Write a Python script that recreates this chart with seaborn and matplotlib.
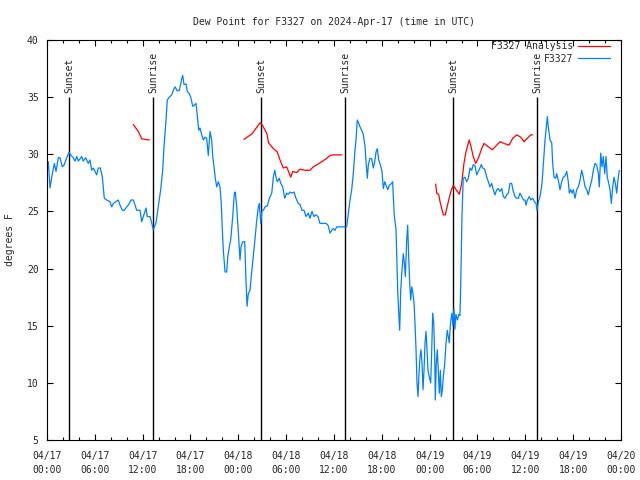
import matplotlib
matplotlib.use("Agg")
import matplotlib.pyplot as plt
import matplotlib.dates as mdates
import seaborn as sns
import pandas as pd

# hours after 2024-04-17 00:00 UTC
obs_hours = [0.16, 0.38, 0.59, 0.92, 1.13, 1.42, 1.63, 1.92, 2.17, 2.47, 2.76, 3.01, 3.30, 3.51, 3.73,
             3.93, 4.35, 4.55, 4.85, 5.18, 5.39, 5.61, 5.81, 6.02, 6.23, 6.44, 6.69, 6.94, 7.19, 7.49,
             7.90, 8.12, 8.32, 8.62, 8.94, 9.16, 9.45, 9.70, 10.00, 10.20, 10.54, 10.83, 11.04, 11.25,
             11.67, 11.88, 12.08, 12.42, 12.58, 12.92, 13.13, 13.33, 13.67, 13.96, 14.26, 14.51, 14.68,
             14.93, 15.09, 15.34, 15.64, 15.84, 16.06, 16.34, 16.60, 16.90, 17.02, 17.19, 17.44, 17.60,
             17.85, 18.03, 18.28, 18.48, 18.69, 18.85, 19.03, 19.19, 19.41, 19.61, 19.82, 20.03, 20.23,
             20.45, 20.66, 20.79, 20.95, 21.11, 21.29, 21.49, 21.70, 21.86, 21.99, 22.12, 22.33, 22.54,
             22.67, 22.87, 23.04, 23.29, 23.50, 23.62, 23.80, 24.00, 24.21, 24.34, 24.55, 24.80, 24.96,
             25.09, 25.25, 25.46, 25.72, 26.10, 26.31, 26.51, 26.64, 26.81, 26.97, 27.14, 27.35, 27.64,
             27.89, 28.19, 28.39, 28.57, 28.73, 28.89, 29.14, 29.32, 29.57, 29.82, 30.07, 30.27, 30.48,
             30.73, 30.98, 31.23, 31.52, 31.74, 31.99, 32.24, 32.49, 32.78, 32.99, 33.24, 33.49, 33.74,
             33.99, 34.24, 34.50, 35.00, 35.25, 35.50, 35.71, 35.91, 36.13, 36.34, 36.67, 37.59, 37.79,
             38.01, 38.22, 38.42, 38.60, 38.76, 38.92, 39.10, 39.26, 39.48, 39.68, 39.89, 40.02, 40.18,
             40.31, 40.52, 40.73, 40.93, 41.11, 41.27, 41.43, 41.61, 41.77, 42.02, 42.19, 42.36, 42.52,
             42.74, 42.94, 43.15, 43.36, 43.44, 43.57, 43.78, 43.87, 43.99, 44.12, 44.24, 44.37, 44.53,
             44.69, 44.82, 44.95, 45.12, 45.24, 45.37, 45.50, 45.62, 45.75, 45.87, 46.04, 46.16, 46.29,
             46.41, 46.54, 46.66, 46.79, 46.91, 47.04, 47.17, 47.29, 47.42, 47.54, 47.67, 47.79, 47.96,
             48.13, 48.26, 48.38, 48.51, 48.63, 48.71, 48.83, 48.96, 49.08, 49.21, 49.34, 49.46, 49.59,
             49.71, 49.89, 50.05, 50.21, 50.34, 50.46, 50.61, 50.79, 50.92, 51.04, 51.17, 51.29, 51.48,
             51.67, 51.80, 51.89, 52.05, 52.21, 52.42, 52.64, 52.85, 53.06, 53.27, 53.47, 53.69, 53.90,
             54.10, 54.31, 54.48, 54.65, 54.90, 55.16, 55.36, 55.57, 55.78, 55.98, 56.20, 56.41, 56.61,
             56.82, 57.04, 57.24, 57.45, 57.66, 57.87, 58.08, 58.29, 58.49, 58.71, 58.92, 59.12, 59.33,
             59.55, 59.75, 59.96, 60.09, 60.25, 60.50, 60.68, 60.93, 61.13, 61.34, 61.47, 61.63, 61.84,
             62.09, 62.26, 62.47, 62.68, 62.76, 62.88, 63.10, 63.31, 63.43, 63.60, 63.81, 63.93, 64.13,
             64.35, 64.56, 64.76, 64.98, 65.19, 65.39, 65.52, 65.69, 65.86, 66.02, 66.23, 66.44, 66.65,
             66.86, 67.07, 67.27, 67.49, 67.70, 67.90, 68.11, 68.33, 68.53, 68.74, 68.95, 69.16, 69.28,
             69.46, 69.62, 69.78, 69.96, 70.12, 70.28, 70.46, 70.62, 70.79, 70.96, 71.12, 71.29, 71.46,
             71.62, 71.79]
obs_dewpt = [29.35, 27.05, 28.0, 29.2, 28.5, 29.7, 29.7, 28.9, 29.1, 29.7, 30.2, 29.9, 29.7, 29.4, 29.8,
             29.4, 29.8, 29.4, 29.7, 29.2, 29.5, 28.6, 28.8, 28.5, 28.2, 28.8, 28.8, 28.0, 26.15, 26.0,
             25.85, 25.4, 25.7, 25.85, 26.0, 25.55, 25.1, 25.1, 25.4, 25.55, 26.0, 26.0, 25.55, 25.1,
             25.1, 24.1, 24.55, 25.3, 24.55, 24.55, 24.0, 23.4, 24.0, 25.4, 26.9, 28.6, 30.7,
             33.0, 34.75, 35.0, 35.2, 35.6, 35.9, 35.55, 35.6, 36.6, 36.9, 36.1, 36.15, 35.5,
             35.3, 35.0, 34.2, 34.3, 34.45, 33.4, 32.1, 32.3, 31.7, 31.25, 31.5, 31.4, 29.9,
             32.0, 31.25, 29.8, 28.9, 27.9, 27.15, 27.6, 27.15, 25.7, 23.4, 21.6, 19.7, 19.7,
             21.0, 21.9, 22.5, 24.5, 26.6, 26.7, 25.4, 23.1, 20.75, 21.9, 22.35, 22.35, 19.0,
             16.7, 17.8, 18.1, 20.0, 22.65, 24.25, 25.4, 25.7, 23.95, 25.1, 25.1, 25.4, 25.5,
             26.15, 26.6, 28.0, 28.6, 28.0, 27.6, 27.9, 27.45, 27.15, 26.15, 26.6, 26.5, 26.7,
             26.6, 26.7, 26.15, 25.7, 25.6, 25.1, 25.1, 24.55, 24.85, 24.4, 25.0, 24.55, 24.7,
             24.55, 23.95, 23.95, 23.95, 23.8, 23.1, 23.35, 23.5, 23.35, 23.65, 23.65, 23.65, 24.8,
             26.0, 26.9, 28.3, 30.1, 31.25, 33.0, 32.7, 32.4, 32.1, 31.7, 30.7, 29.35, 27.9,
             29.1, 29.65, 29.6, 28.8, 29.35, 30.2, 30.5, 29.5, 29.2, 28.5, 27.0, 27.6, 27.3,
             26.9, 27.3, 27.4, 27.6, 26.3, 24.55, 23.4, 21.0, 18.1, 16.1, 14.6, 18.1, 19.9,
             21.3, 20.5, 19.3, 22.5, 23.8, 21.0, 18.7, 17.25, 18.4, 18.0, 17.0, 15.2, 12.9,
             10.0, 8.8, 10.8, 12.3, 12.9, 11.7, 9.4, 11.1, 13.5, 14.5, 12.9, 11.1, 10.5,
             10.0, 12.9, 16.1, 15.2, 12.3, 8.5, 11.7, 12.9, 11.1, 9.1, 11.1, 8.8, 9.4,
             10.5, 11.7, 13.5, 14.6, 14.0, 13.5, 15.2, 16.1, 15.0, 16.5, 14.7, 16.0, 15.5,
             16.0, 15.9, 18.4, 24.5, 27.9, 28.0, 27.6, 27.9, 28.8, 28.6, 29.1, 29.0, 28.2,
             28.5, 28.8, 29.1, 28.8, 28.7, 28.0, 27.6, 27.15, 27.45, 26.9, 26.45, 26.9, 27.0,
             26.75, 27.0, 26.3, 26.15, 26.45, 26.6, 27.45, 27.45, 26.75, 26.3, 26.15, 26.15, 26.6,
             26.3, 26.0, 26.0, 25.55, 26.0, 26.3, 26.0, 26.15, 25.85, 25.7, 25.1, 25.85, 26.3,
             27.45, 29.2, 31.25, 32.7, 33.3, 32.4, 31.25, 31.0, 29.2, 28.0, 27.9, 28.3, 27.75,
             26.9, 27.6, 28.0, 28.1, 28.5, 27.6, 26.6, 26.9, 26.6, 26.9, 26.15, 26.9, 27.15,
             27.75, 28.6, 28.0, 27.15, 26.9, 26.45, 27.15, 27.75, 28.6, 29.2, 29.05, 28.3, 27.15,
             30.1, 28.9, 29.8, 28.3, 29.8, 28.0, 27.45, 26.9, 25.7, 27.15, 28.0, 27.45, 26.6,
             27.75, 28.6]

# analysis comes in three separate pieces
ana_seg = [1] * 4 + [2] * 24 + [3] * 35
ana_hours = [10.83, 11.45, 11.88, 12.83,
             24.71, 25.72, 26.72, 26.97, 27.59, 27.79, 28.39, 28.89, 29.23, 29.64, 30.07, 30.57,
             30.82, 31.32, 31.74, 32.36, 32.99, 33.40, 33.91, 34.46, 35.00, 35.50, 35.91, 36.97,
             48.76, 48.88, 49.13, 49.30, 49.71, 49.96, 50.34, 50.64, 50.97, 51.31, 51.72, 52.01,
             52.30, 52.55, 52.84, 52.96, 53.14, 53.47, 53.77, 54.10, 54.53, 54.82, 55.36, 55.86,
             56.41, 56.82, 57.33, 57.95, 58.42, 58.92, 59.42, 59.84, 60.25, 60.68, 60.93]
ana_dewpt = [32.6, 32.0, 31.35, 31.25,
             31.3, 31.8, 32.75, 32.6, 31.8, 31.0, 30.5, 30.2, 29.5, 28.8, 28.9, 28.0,
             28.5, 28.4, 28.7, 28.6, 28.6, 28.9, 29.1, 29.35, 29.6, 29.9, 29.95, 29.95,
             27.4, 26.6, 26.5, 25.85, 24.7, 24.7, 25.85, 26.7, 27.3, 26.9, 26.5, 27.45,
             29.2, 30.2, 30.95, 31.25, 30.8, 29.8, 29.2, 29.65, 30.5, 30.95, 30.65, 30.4,
             30.8, 31.1, 30.95, 30.8, 31.4, 31.7, 31.5, 31.1, 31.4, 31.7, 31.7]

sun_hours = [2.76, 13.33, 26.84, 37.38, 50.93, 61.47]
sun_names = ['Sunset', 'Sunrise', 'Sunset', 'Sunrise', 'Sunset', 'Sunrise']

start = pd.Timestamp('2024-04-17 00:00')
obs = pd.DataFrame({'time': start + pd.to_timedelta(obs_hours, unit='h'), 'dewpt': obs_dewpt})
ana = pd.DataFrame({'time': start + pd.to_timedelta(ana_hours, unit='h'), 'dewpt': ana_dewpt,
                    'seg': ana_seg})
sun_times = start + pd.to_timedelta(sun_hours, unit='h')

sns.set_style('ticks')
plt.rcParams['font.family'] = ['DejaVu Sans Mono']
plt.rcParams['font.size'] = 7
plt.rcParams['axes.linewidth'] = 0.8

fig = plt.figure(figsize=(6.4, 4.8), dpi=100)
ax = fig.add_axes([47 / 640, 40 / 480, 574 / 640, 400 / 480])

ax.vlines(sun_times, 5, 35, color='black', lw=1, zorder=1)
for t, name in zip(sun_times, sun_names):
    ax.text(t, 35.4, name, rotation=90, ha='center', va='bottom', fontsize=7)

sns.lineplot(data=ana, x='time', y='dewpt', units='seg', estimator=None, sort=False,
             color='#ff0000', lw=0.9, ax=ax)
sns.lineplot(data=obs, x='time', y='dewpt', estimator=None, sort=False,
             color='#0080ff', lw=0.9, ax=ax)

red_line = ax.lines[0]
blue_line = ax.lines[-1]
ax.legend([red_line, blue_line], ['F3327 Analysis', 'F3327'], loc='upper right',
          bbox_to_anchor=(0.981, 0.997), borderaxespad=0, borderpad=0, frameon=False,
          markerfirst=False, handlelength=3.3, handletextpad=0.5, labelspacing=0.25, fontsize=7)

ax.set_xlim(start, start + pd.Timedelta(hours=72))
ax.set_ylim(5, 40)
ax.set_yticks(range(5, 41, 5))
ax.xaxis.set_major_locator(mdates.HourLocator(byhour=[0, 6, 12, 18]))
ax.xaxis.set_minor_locator(mdates.HourLocator(byhour=range(0, 24, 2)))
ax.xaxis.set_major_formatter(mdates.DateFormatter('%m/%d\n%H:%M'))
ax.tick_params(which='both', direction='in', top=True, right=True, color='black', width=0.8)
ax.tick_params(which='major', length=4, pad=6, labelsize=7)
ax.tick_params(axis='x', which='major', pad=8)
ax.tick_params(which='minor', length=2)
ax.set_xlabel('')
ax.set_ylabel('')
for s in ax.spines.values():
    s.set_color('black')

ax.set_title('Dew Point for F3327 on 2024-Apr-17 (time in UTC)', fontsize=7, pad=11)
fig.text(10 / 640, 0.5, 'degrees F', rotation=90, ha='center', va='center', fontsize=7)

fig.canvas.draw()
for lbl in ax.get_xticklabels():
    lbl.set_linespacing(1.5)

fig.savefig('out.png', dpi=100)
